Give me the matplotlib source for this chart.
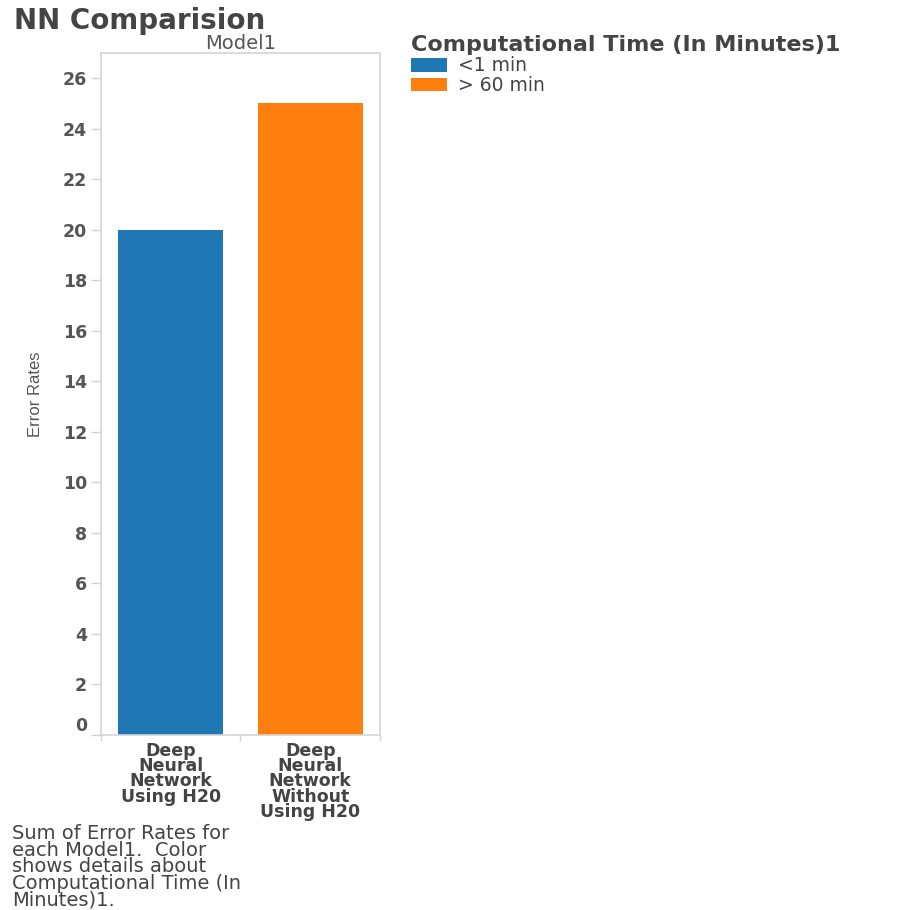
import numpy as np
import matplotlib
matplotlib.use("Agg")
import matplotlib.pyplot as plt
from matplotlib.patches import Patch

# chart data
models = ["Deep\nNeural\nNetwork\nUsing H20", "Deep\nNeural\nNetwork\nWithout\nUsing H20"]
error_rates = [20, 25]
comp_time = ["<1 min", "> 60 min"]
colors = ["#1f77b4", "#ff7f0e"]
yticks = [0, 2, 4, 6, 8, 10, 12, 14, 16, 18, 20, 22, 24, 26]

title = "NN Comparision"
facet = "Model1"
legend_title = "Computational Time (In Minutes)1"
caption = ("Sum of Error Rates for\neach Model1.  Color\nshows details about\n"
           "Computational Time (In\nMinutes)1.")

plt.rcParams['font.family'] = ['DejaVu Sans']
grid_col = "#d4d4d4"
text_col = "#555555"

fig = plt.figure(figsize=(9.16, 9.10), dpi=100)
ax = fig.add_axes([0.1103, 0.1923, 0.3045, 0.7495])

ax.bar(range(len(models)), error_rates, width=0.75, color=colors)
ax.set_xlim(-0.5, len(models) - 0.5)
ax.set_ylim(0, 27)

ax.set_yticks(yticks)
ax.set_yticklabels([str(v) for v in yticks])
ax.tick_params(axis='y', length=7, width=1, color=grid_col, pad=3,
               labelsize=12.5, labelcolor=text_col)
for lab in ax.get_yticklabels():
    lab.set_fontweight('bold')
ax.get_yticklabels()[0].set_va('bottom')

ax.set_xticks(range(len(models)))
ax.set_xticklabels(models, fontweight='bold', linespacing=0.8, color="#444444")
ax.tick_params(axis='x', length=0, pad=5, labelsize=12.5)
ax.set_xticks(np.arange(len(models) + 1) - 0.5, minor=True)
ax.tick_params(axis='x', which='minor', length=4, width=1, color=grid_col)

for s in ax.spines.values():
    s.set_color(grid_col)
    s.set_linewidth(1.2)

ax.set_ylabel("Error Rates", family=['Liberation Sans Narrow', 'Liberation Sans'],
              fontsize=12, color=text_col, labelpad=14)

ax.set_title(facet, fontsize=14, color=text_col, pad=3)

fig.text(14 / 916, 1 - 7 / 910, title, fontsize=20, fontweight='bold',
         color="#444444", ha='left', va='top')

handles = [Patch(facecolor=c, edgecolor='none') for c in colors]
leg = fig.legend(handles, comp_time, loc='upper left',
                 bbox_to_anchor=(400 / 916, 1 - 24 / 910), frameon=False,
                 title=legend_title, alignment='left',
                 title_fontproperties={'weight': 'bold', 'size': 16},
                 fontsize=13.5, handlelength=1.9, handleheight=0.75,
                 handletextpad=0.6, labelspacing=0.05, borderpad=0.1)
leg.get_title().set_color("#444444")
for t in leg.get_texts():
    t.set_color("#444444")

fig.text(12 / 916, 1 - 824 / 910, caption, fontsize=14, color="#444444",
         ha='left', va='top', linespacing=0.84)

fig.savefig("out.png", dpi=100)
